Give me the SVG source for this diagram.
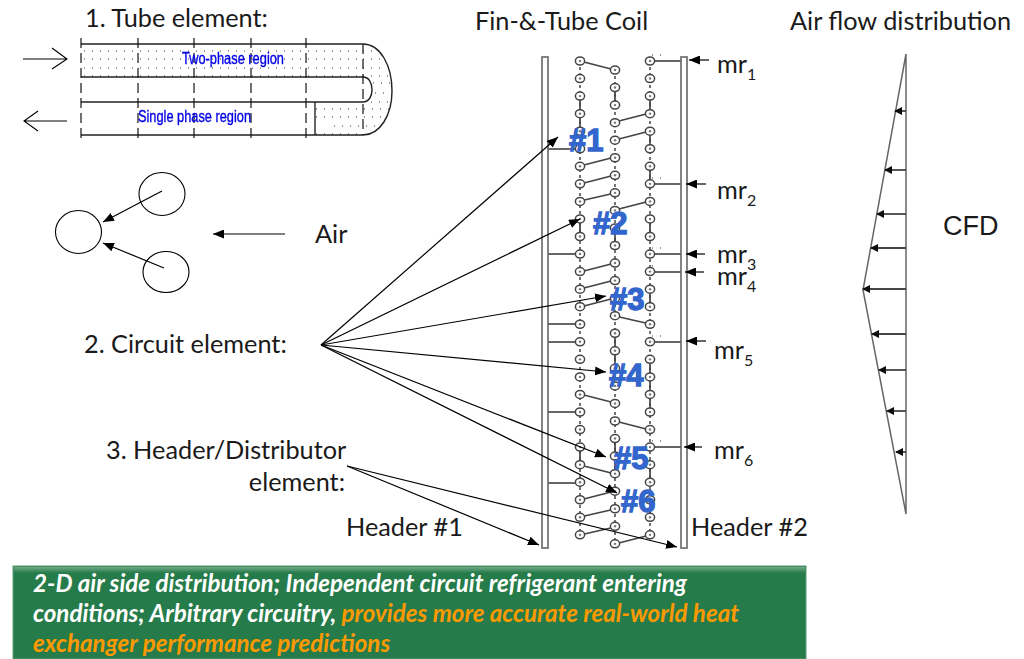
<svg xmlns="http://www.w3.org/2000/svg" xmlns:xlink="http://www.w3.org/1999/xlink" width="1024" height="659" viewBox="0 0 1024 659">
<style>
text{font-family:"Lato","Open Sans","Liberation Sans",sans-serif;fill:#1a1a1a}
.l{font-size:25.300px}
.s{font-size:16px}
.blue{font-family:"Liberation Sans",sans-serif;font-size:16px;fill:#0000e6;stroke:#0000e6;stroke-width:.35}
.num{font-family:"Liberation Sans",sans-serif;font-weight:bold;font-size:31px;fill:#3366cc;stroke:#3366cc;stroke-width:1.300}
.t{stroke:#222;stroke-width:1.4;fill:none}
.d{stroke:#111;stroke-width:1.2;stroke-dasharray:10 5;fill:none}
.dot{stroke:#333;stroke-width:1;stroke-dasharray:1 7;fill:none}
.k{stroke:#000;stroke-width:1.1;fill:none}
.ka{stroke:#000;stroke-width:1.2;fill:none;marker-end:url(#a)}
.co{stroke:#444;stroke-width:1.7;fill:none}
.cd{stroke:#444;stroke-width:1.5;stroke-dasharray:3 3;fill:none}
.st{stroke:#666;stroke-width:1.8;fill:none}
.hd{fill:#fff;stroke:#777;stroke-width:1.8}
.fl{stroke:#444;stroke-width:1.8;fill:none;marker-end:url(#f)}
.box{font-size:24.150px;font-weight:bold;font-style:italic;fill:#fff}
.or{fill:#ff9900}
</style>
<defs>
<marker id="a" markerWidth="11" markerHeight="9" refX="11" refY="4.500" orient="auto" markerUnits="userSpaceOnUse"><path d="M0 0L11 4.500L0 9z" fill="#000"/></marker>
<marker id="f" markerWidth="8" markerHeight="8" refX="7" refY="4" orient="auto" markerUnits="userSpaceOnUse"><path d="M0 0L8 4L0 8z" fill="#111"/></marker>
<filter id="b" x="-5%" y="-5%" width="110%" height="110%"><feGaussianBlur stdDeviation=".5"/></filter>
<linearGradient id="g" x1="0" y1="0" x2="0" y2="1"><stop offset="0" stop-color="#6fa987"/><stop offset="1" stop-color="#267b4a"/></linearGradient>
<g id="n"><ellipse rx="4.600" ry="4" fill="#fff" stroke="#444" stroke-width="1.500"/><circle r="1.200" fill="#777"/></g>
<g id="c7">
<use xlink:href="#n"/><use xlink:href="#n" y="17.550"/><use xlink:href="#n" y="35.100"/><use xlink:href="#n" y="52.650"/><use xlink:href="#n" y="70.200"/><use xlink:href="#n" y="87.750"/><use xlink:href="#n" y="105.300"/>
</g>
<g id="c28">
<use xlink:href="#c7"/><use xlink:href="#c7" y="122.850"/><use xlink:href="#c7" y="245.700"/><use xlink:href="#c7" y="368.550"/>
</g>
</defs>

<g id="tube">
<text class="l" x="85" y="27">1. Tube element:</text>
<g filter="url(#b)">
<path class="dot" d="M84 51H363M84 59H363M84 68H363M84 76H363M363 51H378M363 59H384M363 68H387M363 76H389M373 83H391M375 93H391M371 102H390M316 109H389M316 117H385M334 126H380M316 134H363"/>
<path class="t" d="M81 44H363M81 77H363M81 102H363M81 135H363M315 102V135"/>
<path class="t" d="M363 44C380 44 392 65 392 91C392 115 380 135 363 135M363 77C369 77 372 83 372 90C372 96 369 102 363 102"/>
<path class="d" d="M81 38V142M138 38V142M194 38V142M251 38V142M306 38V142M363 44V135"/>
<path class="k" d="M23 59H67M52 48L67 59L52 69M67 121H24M38 111L24 121L38 131"/>
<text class="blue" x="182" y="64" textLength="102" lengthAdjust="spacingAndGlyphs">Two-phase region</text>
<text class="blue" x="138" y="122" textLength="113" lengthAdjust="spacingAndGlyphs">Single phase region</text>
</g>
</g>

<g id="circuit">
<ellipse class="k" cx="162" cy="194" rx="23" ry="21.500"/>
<ellipse class="k" cx="78.500" cy="232" rx="23" ry="21.500"/>
<ellipse class="k" cx="166" cy="272" rx="23" ry="20.500"/>
<path class="ka" d="M162 191L103 222"/>
<path class="ka" d="M164 268L103 243"/>
<path class="ka" d="M285 234H213"/>
<text class="l" x="315" y="243">Air</text>
<text class="l" x="84" y="353">2. Circuit element:</text>
<text class="l" x="106" y="459">3. Header/Distributor</text>
<text class="l" x="345" y="491" text-anchor="end">element:</text>
<text class="l" x="346" y="536">Header #1</text>
<text class="l" x="691" y="536">Header #2</text>
</g>

<g id="coil">
<text class="l" x="475" y="30">Fin-&amp;-Tube Coil</text>
<g filter="url(#b)">
<rect class="hd" x="542" y="57" width="6" height="491"/>
<rect class="hd" x="681" y="57" width="6" height="491"/>
<path class="cd" d="M580 61V535M615 70V544M650 61V535"/>
<path class="co" d="M580 113V131M580 96V113M615 88V105M650 96V113M650 131V149M650 166V184M580 219V237M615 228V245M650 219V237M650 289V307M615 333V351M615 351V369M650 360V377M650 377V412M580 447V465M615 438V456M615 456V474M650 465V483M650 500V518"/>
<path class="co" d="M580 61L615 70M615 122L650 113M615 140L650 131M580 166L615 157M580 184L615 175M580 201L615 193M615 210L650 201M580 272L615 263M580 289L615 280M580 307L615 298M615 316L650 324M580 394L615 403M615 421L650 430M580 465L615 474M580 500L615 491M580 517L615 509M580 535L615 527M615 544L650 535"/>
<path class="st" d="M548 149H580M548 254H580M548 324H580M548 342H580M548 412H580M548 483H580M650 61H681M650 184H681M650 254H681M650 272H681M650 342H681M650 447H681"/>
<use xlink:href="#c28" x="580" y="61"/>
<use xlink:href="#c28" x="615" y="70"/>
<use xlink:href="#c28" x="650" y="61"/>
<path class="dot" stroke-width=".8" d="M652 55H662M652 178H662M652 248H662M652 266H658M652 336H662M652 441H662"/>
</g>
<path class="ka" d="M709 60H689"/>
<path class="ka" d="M706 184H686"/>
<path class="ka" d="M705 254H686"/>
<path class="ka" d="M704 272H685"/>
<path class="ka" d="M706 341H686"/>
<path class="ka" d="M702 447H684"/>
<text class="l" x="717" y="73">mr<tspan class="s" dy="7">1</tspan></text>
<text class="l" x="717" y="199">mr<tspan class="s" dy="7">2</tspan></text>
<text class="l" x="717" y="263">mr<tspan class="s" dy="7">3</tspan></text>
<text class="l" x="717" y="285">mr<tspan class="s" dy="7">4</tspan></text>
<text class="l" x="714" y="359">mr<tspan class="s" dy="7">5</tspan></text>
<text class="l" x="714" y="459">mr<tspan class="s" dy="7">6</tspan></text>
</g>

<g id="connectors">
<path class="ka" d="M321 345L558 137"/>
<path class="ka" d="M321 345L580 219"/>
<path class="ka" d="M321 345L606 296"/>
<path class="ka" d="M321 345L606 372"/>
<path class="ka" d="M321 345L606 457"/>
<path class="ka" d="M321 345L617 493"/>
<path class="ka" d="M347 466L539 545"/>
<path class="ka" d="M347 466L677 547"/>
</g>

<g id="labels">
<text class="num" x="569" y="151">#1</text>
<text class="num" x="593" y="234">#2</text>
<text class="num" x="610" y="310">#3</text>
<text class="num" x="609" y="386">#4</text>
<text class="num" x="614" y="469">#5</text>
<text class="num" x="621" y="512">#6</text>
</g>

<g id="airflow">
<text class="l" x="790" y="30">Air flow distribution</text>
<g filter="url(#b)">
<path stroke="#666" stroke-width="1.500" fill="none" d="M906 54V514L863 290L906 54"/>
<path class="fl" d="M906 111H895"/>
<path class="fl" d="M906 170H885"/>
<path class="fl" d="M906 214H877"/>
<path class="fl" d="M906 248H871"/>
<path class="fl" d="M906 289H863"/>
<path class="fl" d="M906 334H872"/>
<path class="fl" d="M906 370H879"/>
<path class="fl" d="M906 411H887"/>
<path class="fl" d="M906 452H896"/>
</g>
<text x="943" y="235" style="font-family:'Liberation Sans',sans-serif;font-size:27px">CFD</text>
</g>

<g id="callout">
<rect x="13" y="566" width="793" height="93" fill="#267b4a" stroke="#5f9d78" stroke-width="1"/>
<rect x="14" y="567" width="791" height="6" fill="url(#g)"/>
<text class="box" x="33" y="592">2-D air side distribution; Independent circuit refrigerant entering</text>
<text class="box" x="33" y="622">conditions; Arbitrary circuitry, <tspan class="or">provides more accurate real-world heat</tspan></text>
<text class="box or" x="33" y="652">exchanger performance predictions</text>
</g>
</svg>
